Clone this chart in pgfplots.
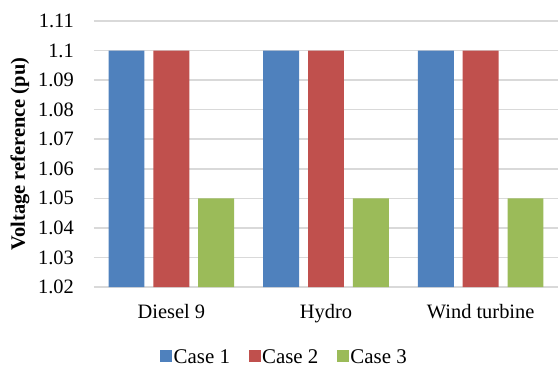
\documentclass[border=0pt]{standalone}
\usepackage{fontspec}
\setmainfont{Liberation Serif}
\usepackage{pgfplots}
\pgfplotsset{compat=1.18}
\definecolor{c1}{HTML}{4F81BD}
\definecolor{c2}{HTML}{C0504D}
\definecolor{c3}{HTML}{9BBB59}
\definecolor{gridc}{HTML}{D9D9D9}
\begin{document}
\begin{tikzpicture}
\begin{axis}[
  name=ax,
  scale only axis,
  width=464bp, height=266bp,
  xmin=-0.5, xmax=2.5,
  ymin=1.02, ymax=1.11,
  ytick={1.02,1.03,1.04,1.05,1.06,1.07,1.08,1.09,1.10,1.11},
  yticklabels={1.02,1.03,1.04,1.05,1.06,1.07,1.08,1.09,1.1,1.11},
  xtick={0,1,2},
  xticklabels={Diesel 9,Hydro,Wind turbine},
  major tick length=0pt,
  axis line style={draw=none},
  axis x line*=bottom,
  ymajorgrids,
  grid style={gridc, line width=1.5bp},
  font=\fontsize{20.5}{24}\selectfont,
  /pgf/number format/assume math mode=true,
  yticklabel style={inner sep=0pt, xshift=-20bp},
  xticklabel style={inner sep=0pt, anchor=north, yshift=-17bp},
  every axis y label/.style={at={(axis description cs:0,0.5)}, rotate=90, anchor=center, yshift=74bp, font=\fontsize{20.5}{24}\selectfont\bfseries},
  ylabel={Voltage reference (pu)},
  legend columns=3,
  legend image code/.code={\fill[#1] (0bp,-5bp) rectangle (12bp,7bp);},
  legend style={draw=none, fill=none, at={(axis description cs:0.41,0)}, anchor=center, yshift=-70bp,
    font=\fontsize{21}{24}\selectfont, inner sep=0pt,
    nodes={inner sep=1.5bp},
    /tikz/every even column/.append style={column sep=17bp}},
  clip=false,
]
\draw[gridc, line width=1.5bp] (axis cs:-0.5,1.02) -- (axis cs:2.5,1.02);
\addplot[ybar, fill=c1, draw=none, bar width=0.232, bar shift=-0.29] coordinates {(0,1.1) (1,1.1) (2,1.1)};
\addplot[ybar, fill=c2, draw=none, bar width=0.232, bar shift=0] coordinates {(0,1.1) (1,1.1) (2,1.1)};
\addplot[ybar, fill=c3, draw=none, bar width=0.232, bar shift=0.29] coordinates {(0,1.05) (1,1.05) (2,1.05)};
\legend{Case 1,Case 2,Case 3}
\end{axis}
\pgfresetboundingbox
\path[use as bounding box] ([xshift=-94bp,yshift=-80bp]ax.south west) rectangle ([xshift=1bp,yshift=21bp]ax.north east);
\end{tikzpicture}
\end{document}
